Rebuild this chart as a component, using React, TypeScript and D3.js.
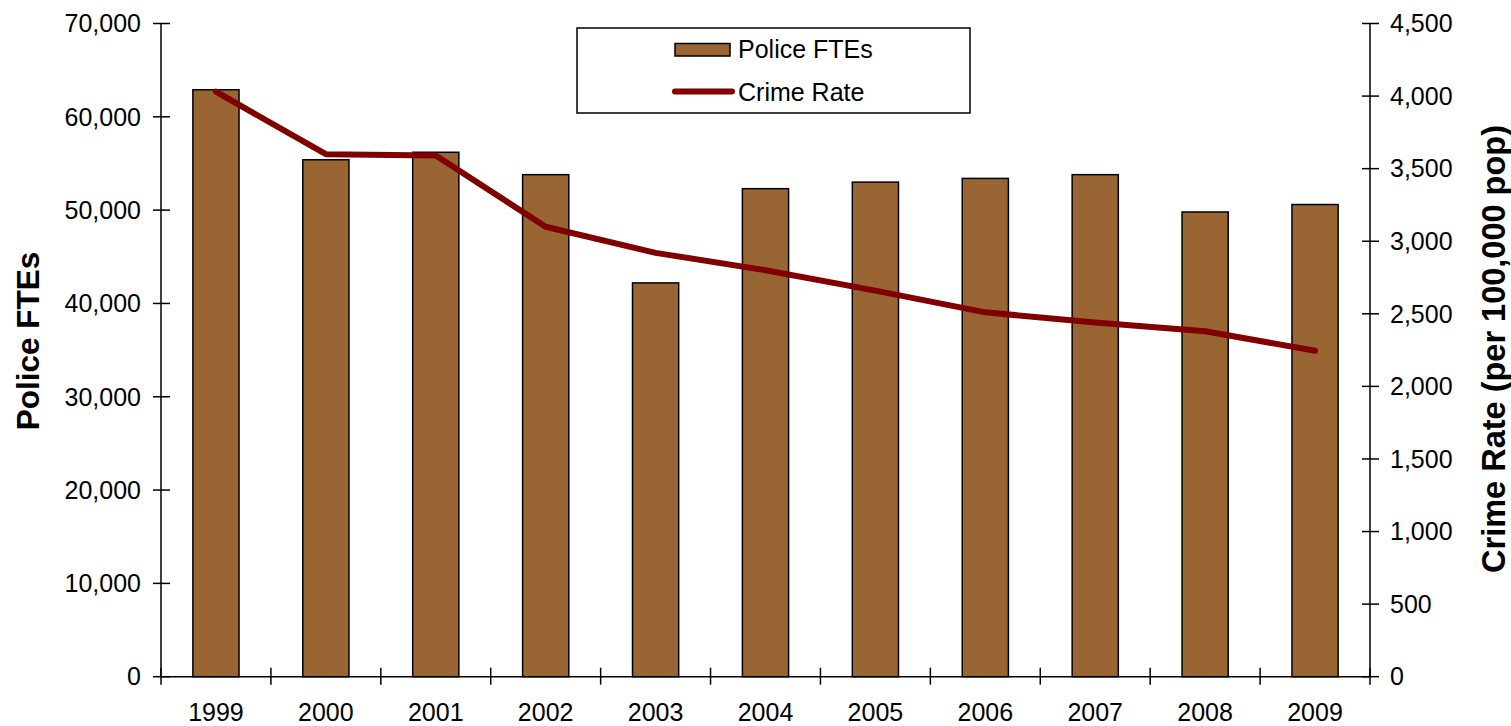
import React from "react";
import * as d3 from "d3";

// Annual police staffing (full-time equivalents) and crime rate per 100,000 population
const years: string[] = ["1999", "2000", "2001", "2002", "2003", "2004", "2005", "2006", "2007", "2008", "2009"];
const policeFTEs: number[] = [62900, 55400, 56200, 53800, 42200, 52300, 53000, 53400, 53800, 49800, 50600];
const crimeRate: number[] = [4030, 3600, 3590, 3100, 2920, 2800, 2660, 2510, 2440, 2380, 2245];
const leftTicks: number[] = [0, 10000, 20000, 30000, 40000, 50000, 60000, 70000];
const rightTicks: number[] = [0, 500, 1000, 1500, 2000, 2500, 3000, 3500, 4000, 4500];

const W = 1511;
const H = 726;
const left = 161;
const right = 1370;
const top = 23.5;
const bottom = 676.7;

const BAR_FILL = "#996633";
const LINE_COLOR = "#800000";
const FONT = "'Liberation Sans', Arial, sans-serif";

export default function App() {
  const x = d3.scaleBand<string>().domain(years).range([left, right]).paddingInner(0.58).paddingOuter(0.29);
  const step = (right - left) / years.length;
  const yL = d3.scaleLinear().domain([0, 70000]).range([bottom, top]);
  const yR = d3.scaleLinear().domain([0, 4500]).range([bottom, top]);
  const fmt = d3.format(",");

  const line = d3
    .line<number>()
    .x((_, i) => (x(years[i]) as number) + x.bandwidth() / 2)
    .y((d) => yR(d));

  return (
    <svg width={W} height={H} style={{ position: "absolute", left: 0, top: 0, background: "#fff" }} fontFamily={FONT}>
      {/* bars */}
      {policeFTEs.map((v, i) => (
        <rect
          key={years[i]}
          x={x(years[i])}
          y={yL(v)}
          width={x.bandwidth()}
          height={yL(0) - yL(v)}
          fill={BAR_FILL}
          stroke="#000"
          strokeWidth={1.5}
        />
      ))}

      {/* left axis */}
      <line x1={left} x2={left} y1={top} y2={bottom} stroke="#000" strokeWidth={1.5} />
      {leftTicks.map((t) => (
        <g key={"l" + t}>
          <line x1={left - 8} x2={left + 9} y1={yL(t)} y2={yL(t)} stroke="#000" strokeWidth={1.5} />
          <text x={141} y={yL(t)} dy="0.35em" textAnchor="end" fontSize={25} fill="#000">
            {fmt(t)}
          </text>
        </g>
      ))}

      {/* right axis */}
      <line x1={right} x2={right} y1={top} y2={bottom} stroke="#000" strokeWidth={1.5} />
      {rightTicks.map((t) => (
        <g key={"r" + t}>
          <line x1={right - 8} x2={right + 9} y1={yR(t)} y2={yR(t)} stroke="#000" strokeWidth={1.5} />
          <text x={1390} y={yR(t)} dy="0.35em" textAnchor="start" fontSize={25} fill="#000">
            {fmt(t)}
          </text>
        </g>
      ))}

      {/* category axis */}
      <line x1={left} x2={right} y1={bottom} y2={bottom} stroke="#000" strokeWidth={1.5} />
      {d3.range(years.length + 1).map((i) => (
        <line key={"xt" + i} x1={left + i * step} x2={left + i * step} y1={bottom - 9} y2={bottom + 8} stroke="#000" strokeWidth={1.5} />
      ))}
      {years.map((yr) => (
        <text key={"xl" + yr} x={(x(yr) as number) + x.bandwidth() / 2} y={721} textAnchor="middle" fontSize={25} fill="#000">
          {yr}
        </text>
      ))}

      {/* crime rate line */}
      <path d={line(crimeRate) ?? ""} fill="none" stroke={LINE_COLOR} strokeWidth={6} strokeLinecap="round" strokeLinejoin="round" />

      {/* axis titles */}
      <text transform="translate(39,341) rotate(-90)" textAnchor="middle" fontSize={31.5} fontWeight="bold" fill="#000">
        Police FTEs
      </text>
      <text transform="translate(1505,349) rotate(-90)" textAnchor="middle" fontSize={32.5} fontWeight="bold" fill="#000">
        Crime Rate (per 100,000 pop)
      </text>

      {/* legend */}
      <rect x={577} y={28} width={393} height={85} fill="#fff" stroke="#000" strokeWidth={1.5} />
      <rect x={675} y={43.5} width={55} height={12.5} fill={BAR_FILL} stroke="#000" strokeWidth={1.5} />
      <text x={738} y={58} fontSize={25} fill="#000">
        Police FTEs
      </text>
      <line x1={675} x2={732} y1={91.5} y2={91.5} stroke={LINE_COLOR} strokeWidth={6} strokeLinecap="round" />
      <text x={738} y={101} fontSize={25} fill="#000">
        Crime Rate
      </text>
    </svg>
  );
}
